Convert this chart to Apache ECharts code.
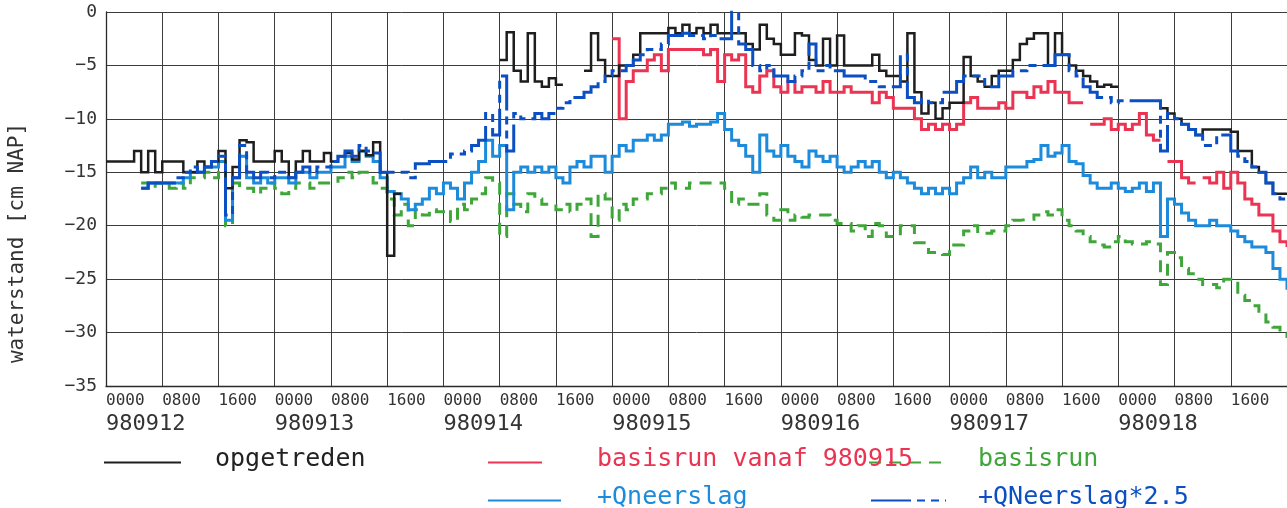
<!DOCTYPE html>
<html><head><meta charset="utf-8">
<script src="https://cdn.jsdelivr.net/npm/echarts@6/dist/echarts.min.js"></script>
<style>html,body{margin:0;padding:0;background:#fff}#c{width:1287px;height:508px}</style>
</head><body><div id="c"></div>
<script>
// x: hours since 980912 0000, one value per hour (0..168)
const timeLabels = ['0000', '0800', '1600'];
const dateLabels = ['980912', '980913', '980914', '980915', '980916', '980917', '980918'];
const yLabels = ['\u221235', '\u221230', '\u221225', '\u221220', '\u221215', '\u221210', '\u22125', '0'];

const opgetreden = [
 -14,-14,-14,-14,-13,-15,-13,-15,
 -14,-14,-14,-15,-15,-14,-14.5,-14,
 -13,-16.5,-14.5,-12,-12.2,-14,-14,-14,
 -13,-14,-15.5,-14,-13,-14,-14,-13.2,
 -14,-13.5,-13.2,-13.8,-13,-13.4,-12.2,-15,
 -22.8,-17,null,null,null,null,null,null,
 null,null,null,null,null,null,null,null,
 -4.5,-1.9,-5.5,-6.5,-2,-6.5,-7,-6.2,
 -6.8,null,null,null,-5.5,-2,-4.5,-6,
 -6,-5,-5,-4,-2,-2,-2,-2,
 -1.5,-2,-1.2,-2,-1.5,-2,-1.2,-2,
 -2,-2,-2,-3,-3.5,-1.2,-2.5,-3,
 -4,-4,-2,-2.2,-4.5,-5,-2.5,-5,
 -2.2,-5,-5,-5,-5,-4,-5.5,-6,
 -6,-6.5,-2,-7.5,-9.5,-8.5,-10,-9,
 -8.5,-8.5,-4.2,-6,-6.5,-7,-6,-5.5,
 -5.5,-4.5,-3,-2.5,-2,-2,-5,-2,
 -4,-5,-5.5,-6,-6.5,-7,-6.8,-7,
 null,null,null,null,null,null,-9,-9.5,
 -10,-10.5,-11,-11.5,-11,-11,-11,-11,
 -11.2,-13,-13,-14.5,-15,-16,-17,-17,
 -17
];
const basisrunVanaf = [
 null,null,null,null,null,null,null,null,
 null,null,null,null,null,null,null,null,
 null,null,null,null,null,null,null,null,
 null,null,null,null,null,null,null,null,
 null,null,null,null,null,null,null,null,
 null,null,null,null,null,null,null,null,
 null,null,null,null,null,null,null,null,
 null,null,null,null,null,null,null,null,
 null,null,null,null,null,null,null,null,
 -2.5,-10,-6.5,-5.5,-5.5,-4.5,-4,-5.5,
 -3.5,-3.5,-3.5,-3.5,-3.5,-4,-3.5,-6.5,
 -4,-4.5,-4,-7,-7.5,-6,-5.5,-7,
 -7.5,-6.5,-7.5,-7,-7,-7.5,-6.5,-7.5,
 -7.5,-7,-7.5,-7.5,-7.5,-8.5,-7.5,-8,
 -9,-9,-9,-10,-11,-10.5,-11,-10.5,
 -11,-10.5,-8.5,-8,-9,-9,-9,-8.5,
 -9,-7.5,-7.5,-8,-7,-7.5,-6.5,-7.5,
 -7.5,-8.5,-8.5,null,-10.5,-10.5,-10,-11,
 -10.5,-11,-10.5,-9.5,-11.5,-12,null,-14,
 -14,-15.5,-16,null,-15.5,-16,-15,-16.5,
 -15,-16,-17.5,-18,-19,-19,-20.5,-21.5,
 -22
];
const basisrun = [
 null,null,null,null,null,-16,-16.5,-16,
 -16,-16.5,-16,-16.5,-15.5,-15.5,-15,-15.5,
 -15,-20,-16,-16.5,-16.5,-17,-16.5,-16,
 -16.5,-17,-16.5,-16,-16,-16.5,-16,-16,
 -16,-15.5,-15,-15.5,-15,-15,-16,-16.5,
 -17.5,-19,-18,-20,-18.5,-19,-18.5,-18.7,
 -18.5,-19.6,-18,-18.5,-17.5,-17,-15.5,-16,
 -21,-17,-18,-18.7,-17,-17.5,-18,-18,
 -18.5,-18,-18.7,-18,-17.5,-21,-17,-17.5,
 -19.5,-18,-18.5,-17.5,-17.5,-17,-17,-16.5,
 -16,-16.5,-16.5,-16,-16,-16,-16,-16,
 -16.5,-18,-17.5,-18,-18,-17,-19,-19.5,
 -18.5,-19.5,-19,-19.2,-19,-19,-19,-19.5,
 -19.8,-19.8,-20.5,-20,-21,-19.8,-20,-21,
 -21,-20,-20,-21.6,-21.6,-22.5,-22.5,-22.7,
 -21.8,-21.8,-20.5,-20,-20.7,-20.7,-20.5,-20.5,
 -20,-19.5,-19.4,-19.4,-19,-18.7,-19,-18.5,
 -19.5,-20,-20.5,-21,-21.5,-21.8,-22,-21.5,
 -21,-21.5,-21.7,-21.7,-21.5,-21.7,-25.5,-22.5,
 -23,-24,-24.5,-25,-25.5,-25.5,-25.8,-25,
 -25,-26.5,-27,-27.5,-28,-29,-29.5,-30,
 -30.5
];
const qNeerslag = [
 null,null,null,null,null,-16.5,-16,-16,
 -16,-16,-16,-15.5,-15,-15,-14.5,-14.5,
 -14,-19.5,-15.5,-13.5,-15.5,-16,-15.5,-16,
 -15.5,-15.5,-16,-15,-15,-15.5,-15,-15,
 -14.5,-14.5,-13.5,-14,-13,-13.5,-14,-15.5,
 -16.8,-17,-17.5,-18.5,-18,-17.5,-16.5,-17,
 -16,-16.5,-17.5,-16,-15,-14,-12,-13.5,
 -12.5,-18.5,-15,-14.5,-15,-14.5,-15,-14.5,
 -15.5,-16,-14.5,-14,-14.5,-13.5,-13.5,-15,
 -13.5,-12.5,-13,-12,-12,-11.5,-12,-11.5,
 -10.5,-10.5,-10.3,-10.7,-10.5,-10.5,-10.3,-9.5,
 -11,-12,-12.5,-13.5,-15,-11.5,-13,-13.5,
 -12.5,-13.5,-14,-14.5,-13,-13.5,-14,-13.5,
 -14.5,-15,-14.5,-14,-14.5,-14,-15,-15.5,
 -15,-15.5,-16,-16.5,-17,-16.5,-17,-16.5,
 -17,-16,-15.5,-14.5,-15.5,-15,-15.5,-15.5,
 -14.5,-14.5,-14.5,-14,-13.8,-12.5,-13.5,-13.2,
 -12.5,-14,-14.2,-15.3,-16,-16.5,-16.5,-16,
 -16.5,-16.8,-16.5,-16,-16.8,-16,-21,-17.5,
 -18,-18.8,-19.5,-20,-20,-19.5,-20,-20,
 -20.5,-21,-21.5,-22,-22,-22.5,-24,-25,
 -26
];
const qNeerslag25 = [
 null,null,null,null,null,-16.5,-16,-16,
 -16,-16,-15.5,-15,-14.5,-15,-14.5,-14,
 -13.5,-19,-15.5,-12.5,-15,-15.5,-15,-15.5,
 -15,-15,-15.5,-15,-14.5,-15,-14.5,-14.5,
 -14,-13.5,-13,-13.5,-12.5,-13,-13.2,-15,
 -15,-15,-15,-15.5,-14.2,-14.2,-14,-14,
 -14,-13.3,-13.3,-13,-12.5,-12,-9.5,-11.5,
 -6,-13,-9.5,-10,-10,-9.5,-10,-9.5,
 -9,-8.5,-8,-8,-7.5,-7,-6.5,-6,
 -5.5,-5.5,-5,-4.5,-4,-3.5,-3.5,-3,
 -2.2,-2.2,-2,-2.2,-2.2,-2.5,-2.2,-2.5,
 -2.5,0,-3,-3.5,-5,-5.5,-5,-6,
 -6,-6.5,-6,-5.5,-3,-5.5,-5,-5.5,
 -5.5,-6,-6,-6,-6.5,-6.5,-7,-7,
 -7,-4,-8,-8.5,-8.2,-8.5,-8.5,-7.5,
 -7.5,-6.5,-6,-6,-6,-7,-7,-6,
 -6,-5.5,-5.5,-5,-5,-5,-5,-4,
 -4,-5.5,-6,-7,-7.5,-8,-8,-8.5,
 -8.3,-8.3,-8.3,-8.3,-8.3,-8.3,-13,-9.5,
 -10,-10.5,-11,-11.5,-12.5,-12.5,-11.5,-11.5,
 -13,-13.5,-14,-14.5,-15,-16,-17,-17.5,
 -17.5
];

const hours = opgetreden.map((_, i) => i);
const pairs = vals => vals.map((v, i) => [hours[i], v]);

const FONT = "'DejaVu Sans Mono', monospace";
const C_BLACK = '#1e1e1e', C_RED = '#ea3452', C_GREEN = '#3fa639', C_LBLUE = '#1c8bdb', C_DBLUE = '#0b4fc2';
const GRID_C = '#3c3c3c';

function lineSeries(name, vals, color, width, dash, z) {
  return {
    type: 'line', name: name, data: pairs(vals), step: 'end', symbol: 'none',
    connectNulls: false, z: z, color: color,
    lineStyle: { color: color, width: width, type: dash || 'solid', cap: 'butt', join: 'miter' },
    itemStyle: { color: color }
  };
}

// legend sample line only (no text)
function legendIcon(name, left, top, iconW) {
  return {
    data: [name], left: left, top: top, padding: 0, itemWidth: iconW, itemHeight: 14,
    selectedMode: false, formatter: () => '',
    itemStyle: { opacity: 0, borderWidth: 0 },
    textStyle: { fontSize: 1, lineHeight: 1 }
  };
}
// legend label only (no sample)
function legendText(name, left, top, color) {
  return {
    data: [name], left: left, top: top, padding: 0, itemWidth: 0, itemHeight: 0,
    icon: 'none', selectedMode: false,
    itemStyle: { opacity: 0, borderWidth: 0 },
    textStyle: { color: color, fontSize: 25, lineHeight: 25, fontFamily: FONT }
  };
}

const chart = echarts.init(document.getElementById('c'), null, { renderer: 'canvas' });
chart.setOption({
  animation: false,
  backgroundColor: '#ffffff',
  grid: { left: 106, right: 0, top: 12, bottom: 122, containLabel: false, outerBoundsMode: 'none' },
  xAxis: [
    {
      type: 'value', min: 0, max: 168, interval: 8, position: 'bottom',
      axisLine: { show: true, onZero: false, lineStyle: { color: '#2a2a2a', width: 1.3 } },
      axisTick: { show: false },
      splitLine: { show: true, lineStyle: { color: GRID_C, width: 1 } },
      axisLabel: {
        formatter: v => (v >= 168 ? '' : timeLabels[Math.round(v / 8) % 3]),
        align: 'left', margin: 7, fontSize: 16, fontFamily: FONT, color: '#333'
      }
    },
    {
      type: 'value', min: 0, max: 168, interval: 24, position: 'bottom',
      axisLine: { show: false }, axisTick: { show: false }, splitLine: { show: false },
      axisLabel: {
        formatter: v => dateLabels[Math.round(v / 24)] || '',
        align: 'left', margin: 27, fontSize: 22, fontFamily: FONT, color: '#333'
      }
    }
  ],
  yAxis: {
    type: 'value', min: -35, max: 0, interval: 5,
    axisLine: { show: true, lineStyle: { color: '#2a2a2a', width: 1.3 } },
    axisTick: { show: false },
    splitLine: { show: true, lineStyle: { color: GRID_C, width: 1 } },
    axisLabel: {
      formatter: v => yLabels[Math.round((v + 35) / 5)],
      margin: 9, fontSize: 18, fontFamily: FONT, color: '#333'
    },
    name: 'waterstand [cm NAP]', nameLocation: 'middle', nameGap: 78, nameRotate: 90,
    nameTextStyle: { fontSize: 21, fontFamily: FONT, color: '#333', padding: [0, 88, 0, 0] }
  },
  legend: [
    legendIcon('opgetreden', 103, 457, 77),
    legendIcon('basisrun vanaf 980915', 487, 457, 54),
    legendIcon('+Qneerslag', 487, 495, 73),
    legendIcon('basisrun', 868, 457, 77),
    legendIcon('+QNeerslag*2.5', 870, 495, 75),
    legendText('opgetreden', 210, 447, '#222'),
    legendText('basisrun vanaf 980915', 592, 447, C_RED),
    legendText('+Qneerslag', 592, 485, C_LBLUE),
    legendText('basisrun', 973, 447, C_GREEN),
    legendText('+QNeerslag*2.5', 973, 485, C_DBLUE)
  ],
  series: [
    lineSeries('basisrun', basisrun, C_GREEN, 3, [12, 8], 1),
    lineSeries('basisrun vanaf 980915', basisrunVanaf, C_RED, 3, null, 2),
    lineSeries('+Qneerslag', qNeerslag, C_LBLUE, 3, null, 3),
    lineSeries('opgetreden', opgetreden, C_BLACK, 2.5, null, 4),
    lineSeries('+QNeerslag*2.5', qNeerslag25, C_DBLUE, 3, [40, 6, 8, 6, 8, 6], 5)
  ]
});
</script>
</body></html>
